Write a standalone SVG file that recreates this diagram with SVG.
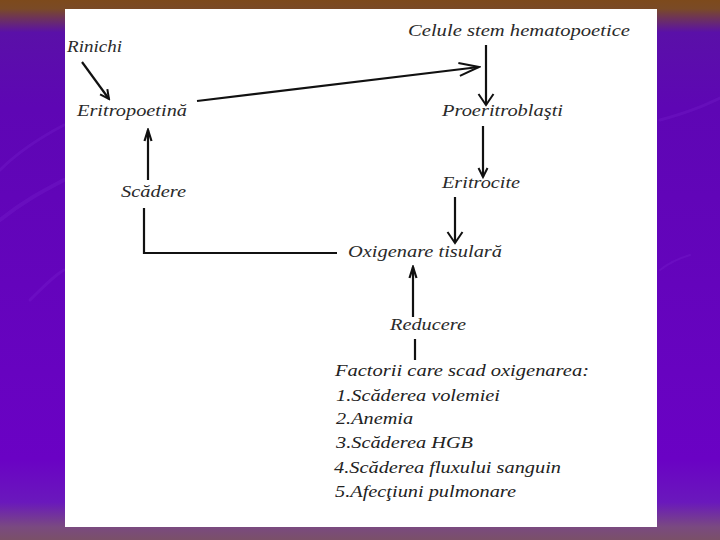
<svg xmlns="http://www.w3.org/2000/svg" width="720" height="540" viewBox="0 0 720 540">
  <defs>
    <linearGradient id="bg" x1="0" y1="0" x2="0" y2="1">
      <stop offset="0" stop-color="#7d4a1c"/>
      <stop offset="0.016" stop-color="#7a4a26"/>
      <stop offset="0.06" stop-color="#5a10a8"/>
      <stop offset="0.2" stop-color="#5e06b4"/>
      <stop offset="0.85" stop-color="#6a02c4"/>
      <stop offset="0.93" stop-color="#6a18bc"/>
      <stop offset="0.976" stop-color="#7a4a80"/>
      <stop offset="1" stop-color="#7a5068"/>
    </linearGradient>
    <marker id="vbig" markerUnits="userSpaceOnUse" viewBox="0 0 24 16" markerWidth="24" markerHeight="16" refX="22" refY="8" orient="auto">
      <path d="M2,1.5 L22,8 L2,14.5" fill="none" stroke="#111" stroke-width="2"/>
    </marker>
    <marker id="vmed" markerUnits="userSpaceOnUse" viewBox="0 0 14 18" markerWidth="14" markerHeight="18" refX="12" refY="9" orient="auto">
      <path d="M1,1.5 L12,9 L1,16.5" fill="none" stroke="#111" stroke-width="2"/>
    </marker>
    <marker id="vsmall" markerUnits="userSpaceOnUse" viewBox="0 0 12 12" markerWidth="12" markerHeight="12" refX="10" refY="6" orient="auto">
      <path d="M1,1.5 L10,6 L1,10.5" fill="none" stroke="#111" stroke-width="2"/>
    </marker>
    <marker id="narrow" markerUnits="userSpaceOnUse" viewBox="0 0 14 10" markerWidth="14" markerHeight="10" refX="12" refY="5" orient="auto">
      <path d="M1,1.5 L12,5 L1,8.5" fill="none" stroke="#111" stroke-width="2.2"/>
    </marker>
  </defs>
  <style>
    text { font-family: "Liberation Serif", "DejaVu Serif", "Times New Roman", serif; font-style: italic; }
    .lbl { fill: #2a2a2a; font-size: 17px; }
    .lst { fill: #222; font-size: 16px; }
    .con { stroke: #111; stroke-width: 2.2; fill: none; }
    .sw { fill: none; stroke: #8a3ae0; stroke-opacity: 0.18; stroke-linecap: round; }
  </style>

  <!-- background -->
  <rect x="0" y="0" width="720" height="540" fill="url(#bg)"/>
  <path class="sw" d="M0,170 C20,150 45,135 64,125" stroke-width="3"/>
  <path class="sw" d="M0,220 C25,200 45,190 64,180" stroke-width="4"/>
  <path class="sw" d="M30,300 C45,285 55,275 64,270" stroke-width="3"/>
  <path class="sw" d="M660,120 C690,112 705,105 720,98" stroke-width="3"/>
  <path class="sw" d="M660,270 C670,262 680,258 690,255" stroke-width="2"/>

  <!-- white panel -->
  <rect x="65" y="9" width="592" height="518" fill="#ffffff"/>

  <!-- connectors -->
  <g id="connectors">
    <line class="con" x1="82" y1="62" x2="109" y2="99" marker-end="url(#vsmall)"/>
    <line class="con" x1="197" y1="101" x2="479" y2="67" marker-end="url(#vbig)"/>
    <line class="con" x1="486" y1="45" x2="486" y2="105" marker-end="url(#vmed)"/>
    <line class="con" x1="483" y1="126" x2="483" y2="177" marker-end="url(#vsmall)"/>
    <line class="con" x1="455" y1="197" x2="455" y2="243" marker-end="url(#vmed)"/>
    <polyline class="con" points="337,253 144,253 144,208"/>
    <line class="con" x1="148" y1="180" x2="148" y2="130" marker-end="url(#narrow)"/>
    <line class="con" x1="413" y1="317" x2="413" y2="267" marker-end="url(#narrow)"/>
    <line class="con" x1="415" y1="339" x2="415" y2="360"/>
  </g>

  <!-- nodes -->
  <g id="rinichi"><text class="lbl" x="67" y="52" textLength="55" lengthAdjust="spacingAndGlyphs">Rinichi</text></g>
  <g id="eritropoetina"><text class="lbl" x="77" y="116" textLength="110" lengthAdjust="spacingAndGlyphs">Eritropoetină</text></g>
  <g id="celule-stem"><text class="lbl" x="408" y="36" textLength="222" lengthAdjust="spacingAndGlyphs">Celule stem hematopoetice</text></g>
  <g id="proeritroblasti"><text class="lbl" x="442" y="116" textLength="121" lengthAdjust="spacingAndGlyphs">Proeritroblaşti</text></g>
  <g id="eritrocite"><text class="lbl" x="442" y="188" textLength="78" lengthAdjust="spacingAndGlyphs">Eritrocite</text></g>
  <g id="scadere"><text class="lbl" x="121" y="197" textLength="65" lengthAdjust="spacingAndGlyphs">Scădere</text></g>
  <g id="oxigenare"><text class="lbl" x="348" y="257" textLength="154" lengthAdjust="spacingAndGlyphs">Oxigenare tisulară</text></g>
  <g id="reducere"><text class="lbl" x="390" y="330" textLength="76" lengthAdjust="spacingAndGlyphs">Reducere</text></g>
  <g id="factori">
    <text class="lst" x="335" y="376" textLength="254" lengthAdjust="spacingAndGlyphs">Factorii care scad oxigenarea:</text>
    <text class="lst" x="336" y="401" textLength="164" lengthAdjust="spacingAndGlyphs">1.Scăderea volemiei</text>
    <text class="lst" x="336" y="424" textLength="77" lengthAdjust="spacingAndGlyphs">2.Anemia</text>
    <text class="lst" x="336" y="448" textLength="137" lengthAdjust="spacingAndGlyphs">3.Scăderea HGB</text>
    <text class="lst" x="334" y="473" textLength="227" lengthAdjust="spacingAndGlyphs">4.Scăderea fluxului sanguin</text>
    <text class="lst" x="335" y="497" textLength="181" lengthAdjust="spacingAndGlyphs">5.Afecţiuni pulmonare</text>
  </g>
</svg>
